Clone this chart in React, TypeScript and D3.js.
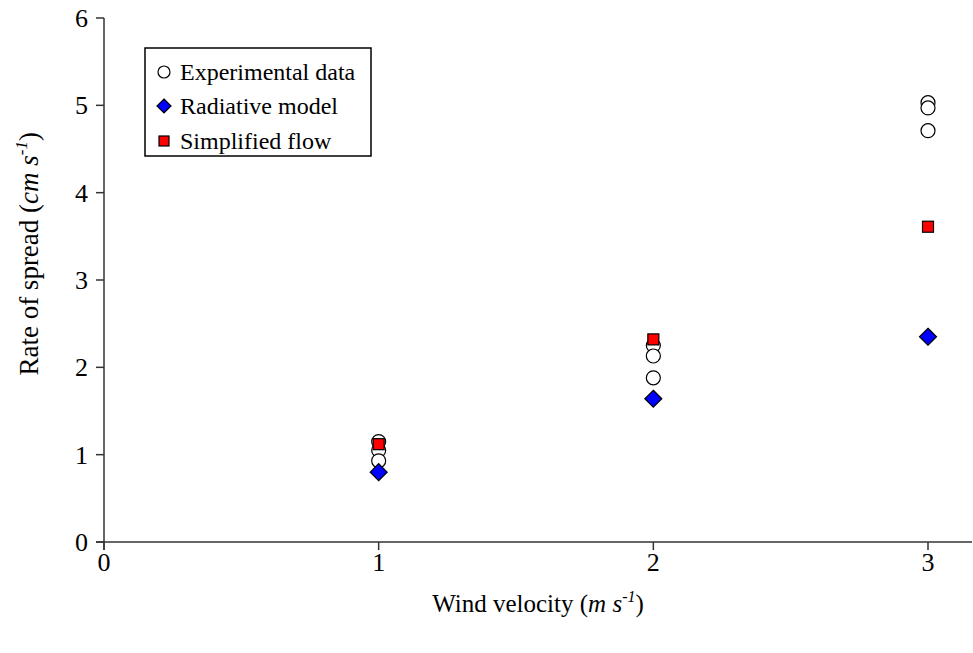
import React from "react";
import * as d3 from "d3";

const expX = [1, 1, 1, 2, 2, 2, 3, 3, 3];
const expY = [1.15, 1.05, 0.93, 2.25, 2.13, 1.88, 5.03, 4.97, 4.71];
const radX = [1, 2, 3];
const radY = [0.8, 1.64, 2.35];
const simX = [1, 2, 3];
const simY = [1.12, 2.32, 3.61];
const xTicks = [0, 1, 2, 3];
const yTicks = [0, 1, 2, 3, 4, 5, 6];

const W = 973;
const H = 653;
const FONT = "'Liberation Serif', 'Times New Roman', serif";

export default function App() {
  const x = d3.scaleLinear().domain([0, 3]).range([104, 928]);
  const y = d3.scaleLinear().domain([0, 6]).range([542, 18]);
  const xEnd = 972;
  const axisColor = "#333";

  const diamond = (cx: number, cy: number, r: number) =>
    `M${cx},${cy - r}L${cx + r},${cy}L${cx},${cy + r}L${cx - r},${cy}Z`;

  return (
    <svg width={W} height={H} style={{ position: "absolute", left: 0, top: 0, background: "#fff" }} fontFamily={FONT}>
      {/* axes */}
      <line x1={x(0)} x2={x(0)} y1={y(6)} y2={y(0) + 8} stroke={axisColor} strokeWidth={1.5} />
      <line x1={x(0) - 8} x2={xEnd} y1={y(0)} y2={y(0)} stroke={axisColor} strokeWidth={1.5} />
      {yTicks.map((t) => (
        <g key={"y" + t}>
          <line x1={x(0) - 8} x2={x(0)} y1={y(t)} y2={y(t)} stroke={axisColor} strokeWidth={1.5} />
          <text x={x(0) - 16} y={y(t)} dy="0.35em" textAnchor="end" fontSize={26} fill="#000">
            {t}
          </text>
        </g>
      ))}
      {xTicks.map((t) => (
        <g key={"x" + t}>
          <line x1={x(t)} x2={x(t)} y1={y(0)} y2={y(0) + 8} stroke={axisColor} strokeWidth={1.5} />
          <text x={x(t)} y={y(0) + 29} textAnchor="middle" fontSize={26} fill="#000">
            {t}
          </text>
        </g>
      ))}

      {/* axis titles */}
      <text x={(x(0) + xEnd) / 2} y={612} textAnchor="middle" fontSize={25} fill="#000">
        Wind velocity (<tspan fontStyle="italic">m s</tspan>
        <tspan fontStyle="italic" fontSize={16} dy={-10}>-1</tspan>
        <tspan dy={10}>)</tspan>
      </text>
      <text
        transform={`translate(38, ${y(3.3)}) rotate(-90)`}
        textAnchor="middle"
        fontSize={27}
        fill="#000"
      >
        Rate of spread (<tspan fontStyle="italic">cm s</tspan>
        <tspan fontStyle="italic" fontSize={17} dy={-11}>-1</tspan>
        <tspan dy={11}>)</tspan>
      </text>

      {/* data */}
      {expX.map((v, i) => (
        <circle key={"e" + i} cx={x(v)} cy={y(expY[i])} r={7} fill="#fff" stroke="#000" strokeWidth={1.2} />
      ))}
      {radX.map((v, i) => (
        <path key={"r" + i} d={diamond(x(v), y(radY[i]), 8.5)} fill="#0000ff" stroke="#000" strokeWidth={1.2} />
      ))}
      {simX.map((v, i) => (
        <rect key={"s" + i} x={x(v) - 5.5} y={y(simY[i]) - 5.5} width={11} height={11} fill="#ff0000" stroke="#000" strokeWidth={1.2} />
      ))}

      {/* legend */}
      <g>
        <rect x={145} y={48} width={226} height={108} fill="#fff" stroke="#000" strokeWidth={1.5} />
        <circle cx={164} cy={72} r={6} fill="#fff" stroke="#000" strokeWidth={1.2} />
        <text x={180} y={72} dy="0.35em" fontSize={24} fill="#000">Experimental data</text>
        <path d={diamond(164, 106, 7)} fill="#0000ff" stroke="#000" strokeWidth={1.2} />
        <text x={180} y={106} dy="0.35em" fontSize={24} fill="#000">Radiative model</text>
        <rect x={159} y={136} width={10} height={10} fill="#ff0000" stroke="#000" strokeWidth={1.2} />
        <text x={180} y={141} dy="0.35em" fontSize={24} fill="#000">Simplified flow</text>
      </g>
    </svg>
  );
}
